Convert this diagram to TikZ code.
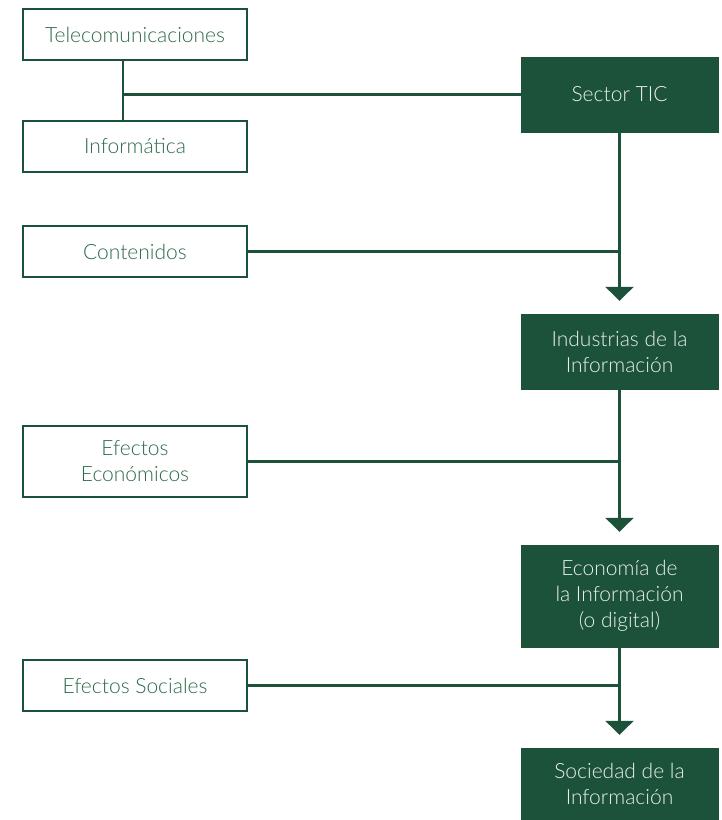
\documentclass[tikz,border=0pt]{standalone}
\usepackage{fontspec}
\setmainfont{Lato Light}
\usetikzlibrary{arrows.meta}
\definecolor{forest}{HTML}{1B5239}
\definecolor{leaf}{HTML}{2E6A4B}
\definecolor{paper}{HTML}{EAF0EC}
\begin{document}
\begin{tikzpicture}[x=1pt,y=-1pt,
  every node/.style={font=\fontsize{21}{26}\selectfont, align=center, inner sep=0pt},
  outline/.style={draw=forest, line width=2.6pt, fill=white, text=leaf,
                  minimum width=224pt, minimum height=51pt},
  solid box/.style={fill=forest, draw=forest, text=paper,
                  minimum width=197pt, minimum height=75pt},
  link/.style={draw=forest, line width=2.6pt},
  flow/.style={link, -{Triangle[width=28pt,length=14pt]}, shorten >=13pt}]
\useasboundingbox (0,0) rectangle (721,820);
\fill[white] (0,0) rectangle (721,820);

% source boxes on the left
\node[outline] (tel) at (135,34.5) {Telecomunicaciones};
\node[outline] (inf) at (135,146.5) {Informática};
\node[outline] (cont) at (135,251.5) {Contenidos};
\node[outline, minimum height=71pt] (econ) at (135,461.5) {Efectos\\Económicos};
\node[outline] (soc) at (135,685.5) {Efectos Sociales};

% main chain on the right
\node[solid box] (tic) at (619.5,94.5) {Sector TIC};
\node[solid box] (ind) at (619.5,351.5) {Industrias de la\\Información};
\node[solid box, minimum height=102pt] (eco) at (619.5,596) {Economía de\\la Información\\(o digital)};
\node[solid box, minimum height=72pt] (sdi) at (619.5,784) {Sociedad de la\\Información};

% joins
\coordinate (j) at (123,94.5);
\draw[link] (tel.south -| j) -- (inf.north -| j);
\draw[link] (j) -- (tic.west);
\draw[flow] (tic.south) -- (ind.north);
\draw[flow] (ind.south) -- (eco.north);
\draw[flow] (eco.south) -- (sdi.north);
\draw[link] (cont.east) -- (cont.east -| tic.south);
\draw[link] (econ.east) -- (econ.east -| ind.south);
\draw[link] (soc.east) -- (soc.east -| eco.south);
\end{tikzpicture}
\end{document}
